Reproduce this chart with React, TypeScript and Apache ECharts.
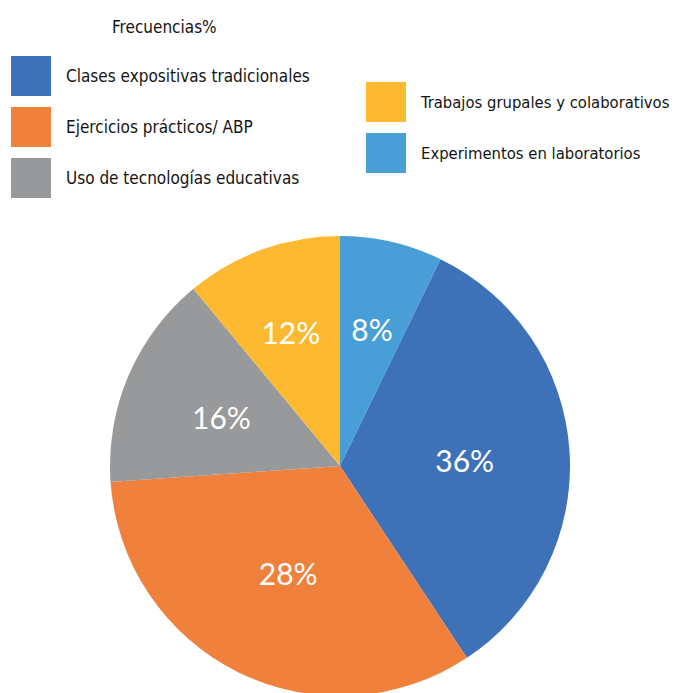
import React, { useEffect, useRef } from "react";
import * as echarts from "echarts";

// Categories in drawing order (clockwise from 12 o'clock)
const categories = [
  "Experimentos en laboratorios",
  "Clases expositivas tradicionales",
  "Ejercicios prácticos/ ABP",
  "Uso de tecnologías educativas",
  "Trabajos grupales y colaborativos",
];
const sliceValues = [7.2, 33.5, 33.2, 15.1, 11.0];
// Percent labels printed on the slices
const labelPercents = [8, 36, 28, 16, 12];
const colors = ["#489ED7", "#3D72B9", "#F0813D", "#97999A", "#FDB92F"];

const legendLeft = [
  "Clases expositivas tradicionales",
  "Ejercicios prácticos/ ABP",
  "Uso de tecnologías educativas",
];
const legendRight = ["Trabajos grupales y colaborativos", "Experimentos en laboratorios"];

const titleText = "Frecuencias%";

const CX = 340;
const CY = 466;
const labelDist = [143, 125, 117, 129, 145];

const narrow = "'DejaVu Sans Condensed', 'Liberation Sans Narrow', sans-serif";

export default function App() {
  const ref = useRef<HTMLDivElement>(null);
  useEffect(() => {
    if (!ref.current) return;
    const chart = echarts.init(ref.current, undefined, { renderer: "svg" });
    const legendText = (size: number) => ({
      fontFamily: narrow,
      fontSize: size,
      color: "#141414",
      padding: [0, 0, 0, 10],
    });
    chart.setOption({
      animation: false,
      backgroundColor: "#ffffff",
      color: colors,
      title: {
        text: titleText,
        left: 112,
        top: 18,
        padding: 0,
        textStyle: { fontFamily: narrow, fontSize: 17, fontWeight: "normal", color: "#141414" },
      },
      legend: [
        {
          orient: "vertical",
          left: 11,
          top: 56,
          padding: 0,
          itemWidth: 40,
          itemHeight: 40,
          itemGap: 11,
          icon: "rect",
          selectedMode: false,
          data: legendLeft,
          textStyle: legendText(17),
        },
        {
          orient: "vertical",
          left: 366,
          top: 82,
          padding: 0,
          itemWidth: 40,
          itemHeight: 40,
          itemGap: 11,
          icon: "rect",
          selectedMode: false,
          data: legendRight,
          textStyle: legendText(16.5),
        },
      ],
      series: [
        {
          type: "pie",
          center: [CX, CY],
          radius: [0, 230],
          startAngle: 90,
          clockwise: true,
          silent: true,
          data: categories.map((name, i) => ({ name, value: sliceValues[i] })),
          label: {
            show: true,
            position: "inside",
            formatter: (p: any) => labelPercents[p.dataIndex] + "%",
            color: "#ffffff",
            fontFamily: "Lato, sans-serif",
            fontSize: 30,
          },
          labelLine: { show: false },
          itemStyle: { borderWidth: 0 },
          labelLayout: (params: any) => {
            const r = params.labelRect;
            const lx = r.x + r.width / 2;
            const ly = r.y + r.height / 2;
            const vx = lx - CX;
            const vy = ly - CY;
            const d = Math.sqrt(vx * vx + vy * vy) || 1;
            const f = labelDist[params.dataIndex] / d;
            return { dx: vx * (f - 1), dy: vy * (f - 1) + 2 };
          },
        },
      ],
    });
    return () => chart.dispose();
  }, []);
  return (
    <div
      ref={ref}
      style={{ position: "fixed", left: 0, top: 0, width: 681, height: 693 }}
    />
  );
}
